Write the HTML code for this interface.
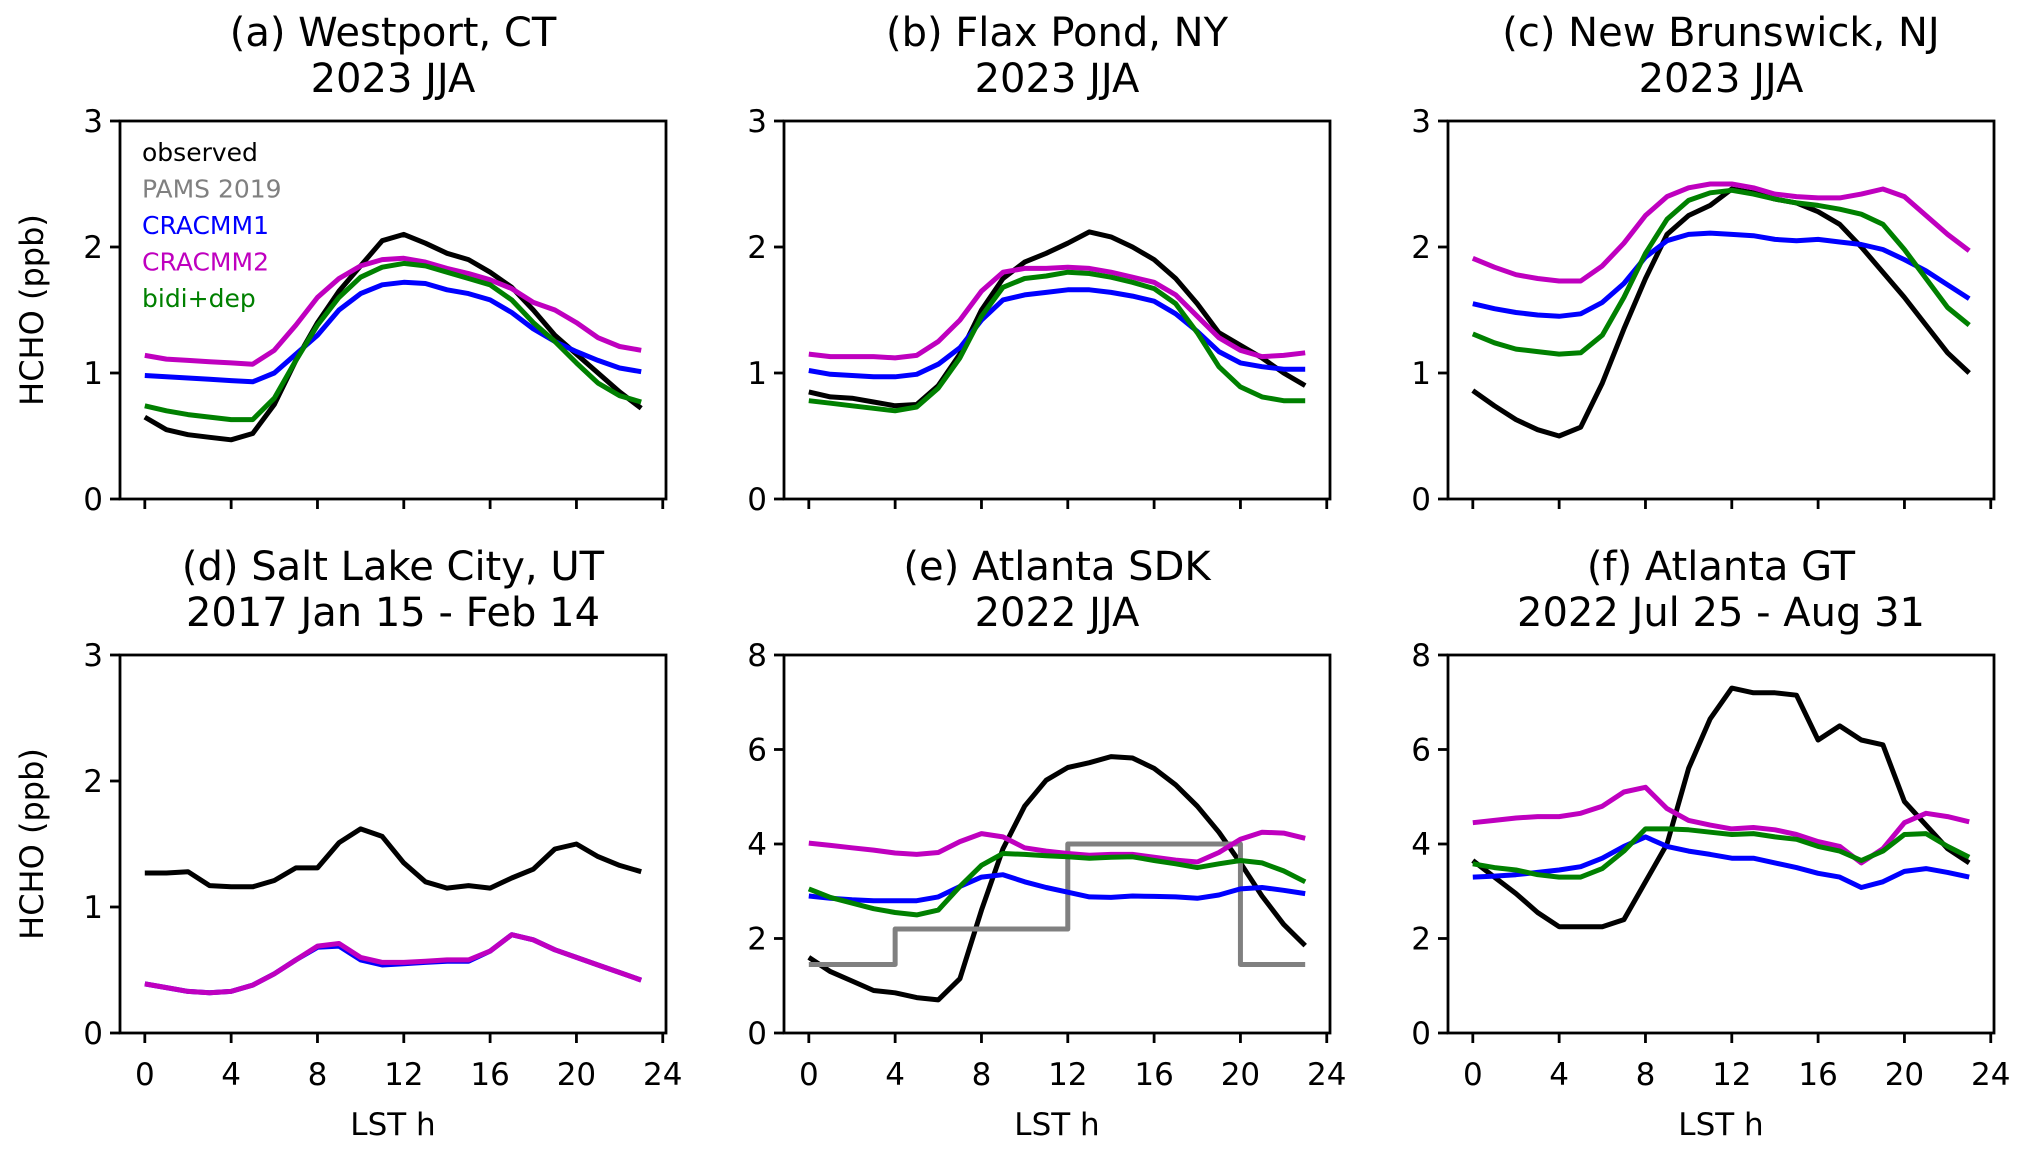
<!DOCTYPE html>
<html><head><meta charset="utf-8"><style>
html,body{margin:0;padding:0;background:#fff;}
svg{display:block;font-family:"DejaVu Sans","Liberation Sans",sans-serif;}
</style></head><body>
<svg id="fig" width="2029" height="1156" viewBox="0 0 2029 1156"></svg>
<script>
const hours=[0,1,2,3,4,5,6,7,8,9,10,11,12,13,14,15,16,17,18,19,20,21,22,23];
const titles=[["(a) Westport, CT","2023 JJA"],["(b) Flax Pond, NY","2023 JJA"],["(c) New Brunswick, NJ","2023 JJA"],["(d) Salt Lake City, UT","2017 Jan 15 - Feb 14"],["(e) Atlanta SDK","2022 JJA"],["(f) Atlanta GT","2022 Jul 25 - Aug 31"]];
const yMaxes=[3,3,3,3,8,8];
const yTicksSmall=[0,1,2,3];
const yTicksLarge=[0,2,4,6,8];
const xTicks=[0,4,8,12,16,20,24];
const legendLabels=["observed","PAMS 2019","CRACMM1","CRACMM2","bidi+dep"];
const obsA=[0.65,0.55,0.51,0.49,0.47,0.52,0.75,1.1,1.4,1.65,1.85,2.05,2.1,2.03,1.95,1.9,1.8,1.68,1.5,1.3,1.15,1.0,0.85,0.72];
const cr1A=[0.98,0.97,0.96,0.95,0.94,0.93,1.0,1.15,1.3,1.5,1.63,1.7,1.72,1.71,1.66,1.63,1.58,1.48,1.35,1.25,1.17,1.1,1.04,1.01];
const cr2A=[1.14,1.11,1.10,1.09,1.08,1.07,1.18,1.38,1.6,1.75,1.85,1.9,1.91,1.88,1.83,1.79,1.74,1.67,1.56,1.5,1.4,1.28,1.21,1.18];
const bidiA=[0.74,0.70,0.67,0.65,0.63,0.63,0.8,1.1,1.38,1.6,1.76,1.84,1.87,1.85,1.80,1.75,1.70,1.58,1.40,1.25,1.08,0.92,0.82,0.77];
const obsB=[0.85,0.81,0.80,0.77,0.74,0.75,0.90,1.15,1.5,1.75,1.88,1.95,2.03,2.12,2.08,2.0,1.9,1.75,1.55,1.32,1.22,1.12,1.0,0.9];
const cr1B=[1.02,0.99,0.98,0.97,0.97,0.99,1.07,1.2,1.42,1.58,1.62,1.64,1.66,1.66,1.64,1.61,1.57,1.47,1.33,1.17,1.08,1.05,1.03,1.03];
const cr2B=[1.15,1.13,1.13,1.13,1.12,1.14,1.25,1.42,1.65,1.8,1.83,1.83,1.84,1.83,1.80,1.76,1.72,1.62,1.45,1.28,1.18,1.13,1.14,1.16];
const bidiB=[0.78,0.76,0.74,0.72,0.70,0.73,0.88,1.12,1.45,1.68,1.75,1.77,1.80,1.79,1.76,1.72,1.67,1.55,1.32,1.05,0.89,0.81,0.78,0.78];
const obsC=[0.86,0.74,0.63,0.55,0.50,0.57,0.92,1.35,1.75,2.1,2.25,2.33,2.46,2.43,2.38,2.35,2.28,2.18,2.0,1.80,1.6,1.38,1.16,1.0];
const cr1C=[1.55,1.51,1.48,1.46,1.45,1.47,1.56,1.71,1.92,2.05,2.1,2.11,2.10,2.09,2.06,2.05,2.06,2.04,2.02,1.98,1.90,1.81,1.70,1.59];
const cr2C=[1.91,1.84,1.78,1.75,1.73,1.73,1.85,2.03,2.25,2.4,2.47,2.5,2.5,2.47,2.42,2.4,2.39,2.39,2.42,2.46,2.4,2.25,2.1,1.97];
const bidiC=[1.31,1.24,1.19,1.17,1.15,1.16,1.3,1.6,1.95,2.22,2.37,2.43,2.45,2.42,2.38,2.35,2.33,2.3,2.26,2.18,1.98,1.75,1.52,1.38];
const obsD=[1.27,1.27,1.28,1.17,1.16,1.16,1.21,1.31,1.31,1.51,1.62,1.56,1.35,1.20,1.15,1.17,1.15,1.23,1.30,1.46,1.50,1.40,1.33,1.28];
const cr1D=[0.39,0.36,0.33,0.32,0.33,0.38,0.47,0.58,0.68,0.69,0.58,0.54,0.55,0.56,0.57,0.57,0.65,0.78,0.74,0.66,0.60,0.54,0.48,0.42];
const cr2D=[0.39,0.36,0.33,0.32,0.33,0.38,0.47,0.58,0.69,0.71,0.60,0.56,0.56,0.57,0.58,0.58,0.65,0.78,0.74,0.66,0.60,0.54,0.48,0.42];
const obsE=[1.6,1.3,1.1,0.9,0.85,0.75,0.7,1.15,2.6,3.9,4.8,5.35,5.62,5.72,5.85,5.82,5.6,5.25,4.8,4.25,3.6,2.9,2.3,1.85];
const pamsE=[1.45,1.45,1.45,1.45,2.2,2.2,2.2,2.2,2.2,2.2,2.2,2.2,4.0,4.0,4.0,4.0,4.0,4.0,4.0,4.0,1.45,1.45,1.45,1.45];
const cr1E=[2.9,2.85,2.82,2.8,2.8,2.8,2.88,3.1,3.3,3.35,3.2,3.08,2.98,2.88,2.87,2.9,2.89,2.88,2.85,2.92,3.05,3.08,3.02,2.95];
const cr2E=[4.02,3.97,3.92,3.87,3.81,3.78,3.82,4.05,4.22,4.15,3.92,3.85,3.8,3.76,3.78,3.78,3.72,3.66,3.62,3.82,4.1,4.25,4.23,4.12];
const bidiE=[3.05,2.87,2.75,2.63,2.55,2.5,2.6,3.1,3.55,3.8,3.78,3.75,3.73,3.7,3.72,3.73,3.65,3.58,3.5,3.58,3.65,3.6,3.43,3.2];
const obsF=[3.65,3.3,2.95,2.55,2.25,2.25,2.25,2.4,3.2,4.0,5.6,6.65,7.3,7.2,7.2,7.15,6.2,6.5,6.2,6.1,4.9,4.4,3.9,3.6];
const cr1F=[3.3,3.32,3.35,3.4,3.45,3.52,3.7,3.95,4.15,3.95,3.85,3.78,3.7,3.7,3.6,3.5,3.38,3.3,3.08,3.2,3.42,3.48,3.4,3.3];
const cr2F=[4.45,4.5,4.55,4.58,4.58,4.65,4.8,5.1,5.2,4.75,4.5,4.4,4.32,4.35,4.3,4.2,4.05,3.95,3.6,3.9,4.45,4.65,4.58,4.47];
const bidiF=[3.58,3.5,3.45,3.35,3.3,3.3,3.48,3.85,4.32,4.32,4.3,4.25,4.2,4.22,4.15,4.1,3.95,3.85,3.65,3.85,4.2,4.22,3.95,3.72];

const COL={obs:"#000000",pams:"#808080",cr1:"#0000ff",cr2:"#bf00bf",bidi:"#008000"};
const panelSeries=[
 {obs:obsA,cr1:cr1A,cr2:cr2A,bidi:bidiA},
 {obs:obsB,cr1:cr1B,cr2:cr2B,bidi:bidiB},
 {obs:obsC,cr1:cr1C,cr2:cr2C,bidi:bidiC},
 {obs:obsD,cr1:cr1D,cr2:cr2D},
 {obs:obsE,pams:pamsE,cr1:cr1E,cr2:cr2E,bidi:bidiE},
 {obs:obsF,cr1:cr1F,cr2:cr2F,bidi:bidiF}
];
const NS="http://www.w3.org/2000/svg";
const svg=document.getElementById("fig");
function mk(tag,attrs,parent){const e=document.createElementNS(NS,tag);for(const k in attrs)e.setAttribute(k,attrs[k]);(parent||svg).appendChild(e);return e;}
const lefts=[120,784,1448], tops=[121,655], W=546, H=378;
const XMIN=-1.15, XMAX=24.15;
for(let p=0;p<6;p++){
  const col=p%3,row=Math.floor(p/3);
  const L=lefts[col],T=tops[row],ymax=yMaxes[p];
  const xs=v=>L+(v-XMIN)/(XMAX-XMIN)*W;
  const ys=v=>T+H-(v/ymax)*H;
  const g=mk("g",{});
  
  
  const cx=L+W/2;
  const t=mk("text",{x:cx,y:T-75,"text-anchor":"middle","font-size":40,fill:"#000"},g);
  
  
  t.textContent=titles[p][0];
  const t2=mk("text",{x:cx,y:T-29,"text-anchor":"middle","font-size":40,fill:"#000"},g);
  
  
  t2.textContent=titles[p][1];
  const s=panelSeries[p];
  const order=["obs","pams","cr1","cr2","bidi"];
  const clip=mk("clipPath",{id:"c"+p},g);mk("rect",{x:L,y:T,width:W,height:H},clip);
  order.forEach(k=>{
    if(!s[k])return;
    const arr=s[k];let d="";
    if(k==="pams"){
      arr.forEach((v,i)=>{const x=xs(hours[i]),y=ys(v);
        if(i===0)d+="M"+x+" "+y;else d+="H"+x+"V"+y;});
    } else {
      arr.forEach((v,i)=>{d+=(i?"L":"M")+xs(hours[i]).toFixed(1)+" "+ys(v).toFixed(1);});
    }
    const path=mk("path",{d:d,fill:"none",stroke:COL[k],"stroke-width":5,"stroke-linejoin":"round","clip-path":"url(#c"+p+")"},g);
    
    
  });
  const fr=mk("rect",{x:L,y:T,width:W,height:H,fill:"none",stroke:"#000","stroke-width":2.8},g);
  
  
  const yt=ymax===3?yTicksSmall:yTicksLarge;
  yt.forEach(v=>{
    mk("line",{x1:L-10,x2:L,y1:ys(v),y2:ys(v),stroke:"#000","stroke-width":2.8},g);
    const tl=mk("text",{x:L-17,y:ys(v)+11,"text-anchor":"end","font-size":31,fill:"#000"},g);
    
    
    tl.textContent=v;
  });
  xTicks.forEach(v=>{
    mk("line",{x1:xs(v),x2:xs(v),y1:T+H,y2:T+H+10,stroke:"#000","stroke-width":2.8},g);
    if(row===1){
      const tl=mk("text",{x:xs(v),y:T+H+52,"text-anchor":"middle","font-size":31,fill:"#000"},g);
      
      
      tl.textContent=v;
    }
  });
  if(row===1){
    const xl=mk("text",{x:cx,y:T+H+102,"text-anchor":"middle","font-size":31,fill:"#000"},g);
    
    
    xl.textContent="LST h";
  }
  if(col===0){
    const yl=mk("text",{x:0,y:0,"text-anchor":"middle","font-size":32,fill:"#000",transform:"translate(43,"+(T+H/2)+") rotate(-90)"},g);
    
    
    yl.textContent="HCHO (ppb)";
  }
  if(p===0){
    const lc=[COL.obs,COL.pams,COL.cr1,COL.cr2,COL.bidi];
    legendLabels.forEach((lab,i)=>{
      const le=mk("text",{x:L+22,y:T+40+i*36.5,"font-size":25,fill:lc[i]},g);
      
      
      le.textContent=lab;
    });
  }
}
</script>
</body></html>
